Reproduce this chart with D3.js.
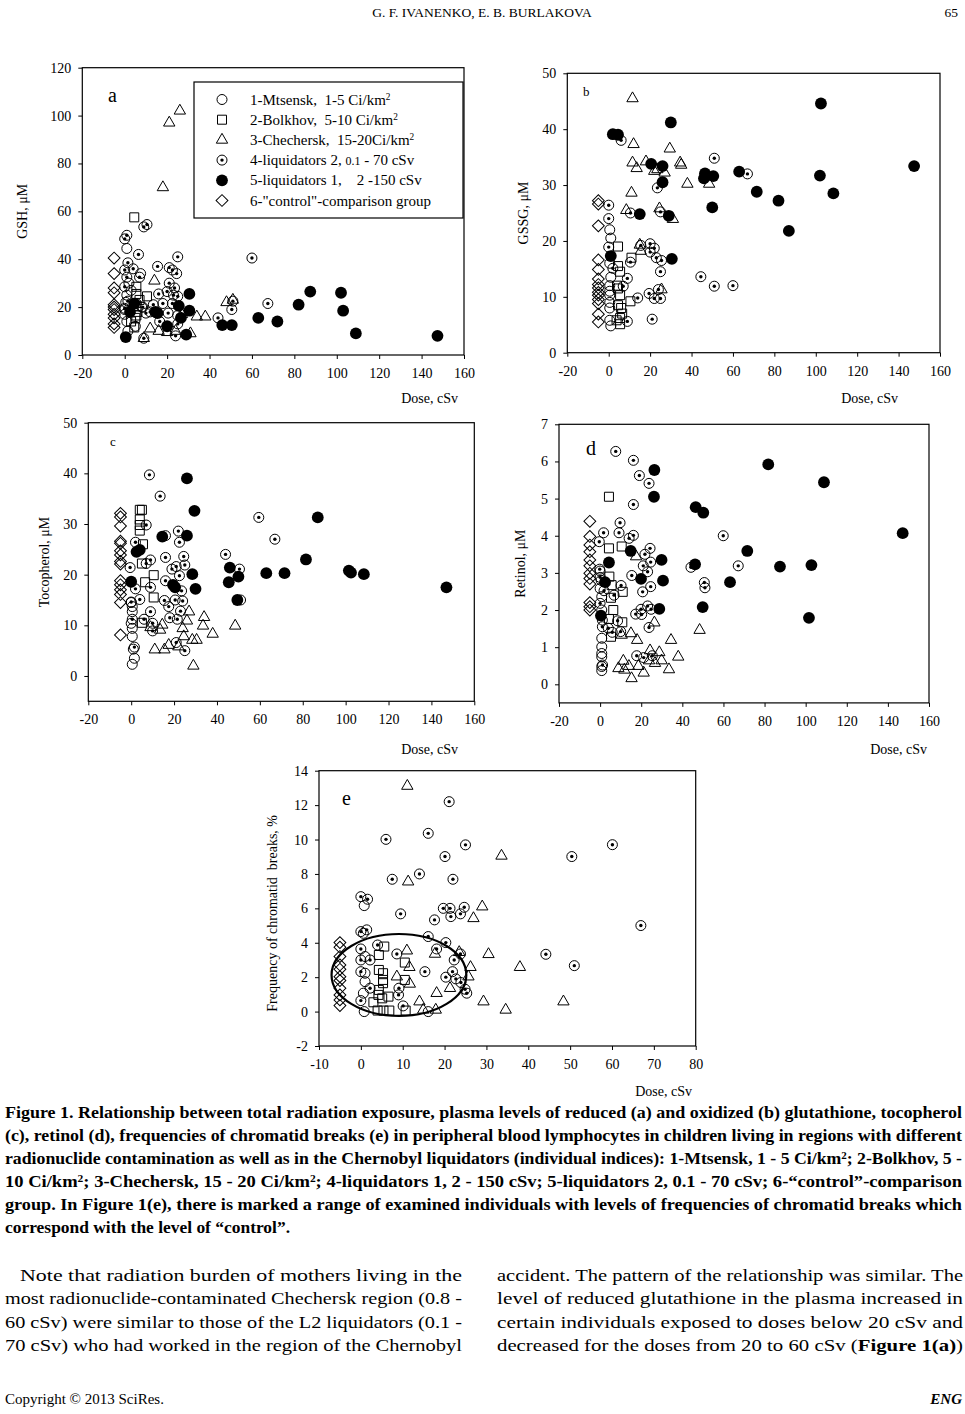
<!DOCTYPE html>
<html>
<head>
<meta charset="utf-8">
<script src="https://cdn.jsdelivr.net/npm/d3@7"></script>
<style>
  body { margin: 0; background: #fff; }
  svg { display: block; }
  text { font-family: "Liberation Serif", "Times New Roman", serif; fill: #000; }
</style>
</head>
<body>
<svg id="page" width="965" height="1414"></svg>
<script>
// ---------- data ----------
var doseTicks = [-20, 0, 20, 40, 60, 80, 100, 120, 140, 160];
var doseTicksE = [-10, 0, 10, 20, 30, 40, 50, 60, 70, 80];

var seriesKinds = ["circle", "square", "triangle", "dot", "filled", "diamond"];
var legendLabels = [
  [["1-Mtsensk,  1-5 Ci/km"], ["2", "sup"]],
  [["2-Bolkhov,  5-10 Ci/km"], ["2", "sup"]],
  [["3-Chechersk,  15-20Ci/km"], ["2", "sup"]],
  [["4-liquidators 2, "], ["0.1", "small"], [" - 70 cSv"]],
  [["5-liquidators 1,    2 -150 cSv"]],
  [["6-\"control\"-comparison group"]]
];

// (a) GSH
var aMtsensk = [[1,44.5],[7.5,34],[2,30],[1,25],[0.5,22],[0,19],[8,20],[0,17],[1,14],[5,12],[1.5,10],[3,27]];
var aBolkhov = [[4.5,57.5],[5.5,28.5],[5.5,25.5],[7,23],[10.5,24.5],[5.5,20.5],[6,18],[5,15.5],[3,14],[4.5,11.5],[5.5,16.5]];
var aChechersk = [[26,102],[21,97],[18,70],[14,31],[48,22],[51,23],[34,16],[38,16],[27,17],[12,11],[16,10],[9,7],[31,9],[20,9.5],[24,10]];
var aLiq2 = [[1,50],[0,48.5],[9,53.5],[10.5,54.5],[6.5,42],[25,41],[60,40.5],[15.5,37],[21,36.5],[22.5,35.5],[24.5,34],[1.5,38.5],[0,35.5],[1,32.5],[4,36],[7,32.5],[21,30],[23.5,28],[0,28.5],[20,26.5],[16,25.5],[23,25],[22.5,21.5],[25,24.5],[51,22.5],[50.5,19],[67.5,21.5],[13.5,21],[10,17.5],[16.5,14],[25,13],[24,8],[9,7],[20.5,17.5],[5.5,21.5],[1.5,22.5],[44,15.5],[18,21.5],[12,18],[25,16.5],[0,19.5],[8.5,20]];
var aLiq1 = [[4.5,21.5],[2.5,18],[0.5,7.5],[14.5,18],[15.5,17.5],[20,12],[25.5,20.5],[26.5,15.5],[30.5,25.5],[30.5,18.5],[29,8.5],[46,12.5],[50.5,12.5],[63,15.5],[72,14],[82,21],[87.5,26.5],[102,26],[103,18.5],[109,9],[147.5,8]];
var aControl = [[-5,40.5],[-5,34],[-5,28],[-5,26],[-5,21],[-5,20],[-5,19],[-5,17],[-5,15.5],[-5,13],[-5,11.5]];

// (b) GSSG
var bMtsensk = [[0.5,22],[1,20.5],[0.5,16],[1,13.5],[0.5,12],[0.5,11],[0.5,10.3],[0.5,9],[0.5,8],[0.5,5.8],[1,4.8]];
var bBolkhov = [[4.5,19],[11,17],[4.5,15.5],[5.5,14.5],[4,12],[4.5,11.5],[5.5,10.3],[4.5,8.5],[10.5,9.2],[6,8],[6.5,7],[5.5,6.2],[5.5,5.1],[3.8,5.8]];
var bChechersk = [[11.5,45.5],[12,37.3],[29.5,36.5],[11.5,34],[13.5,33],[18,34.2],[22,32.5],[23.5,32.8],[27,32.2],[34.5,34],[35,33.6],[38,30.2],[48.5,30.2],[11,28.6],[8.5,25.5],[24.5,25.8],[31,23.9],[15,19.3],[15.5,18.2],[25.5,11.3]];
var bLiq2 = [[6,38],[51,34.8],[67,32],[23.5,29.5],[0,26.4],[0,24],[10.5,25],[25,25.2],[0,18.9],[15.5,19.2],[20,19.5],[20,18],[22,18.7],[23,17],[25.5,16.5],[10.5,16.2],[2,15.1],[25,14.5],[9,13.3],[7,11.9],[44.5,13.6],[51,11.9],[60,12],[14,9.8],[19.5,10.6],[24,11.3],[22,9.7],[25,9.7],[21,6],[9,5.6]];
var bLiq1 = [[2,39.1],[4.5,39],[30,41.2],[102.5,44.6],[147.5,33.4],[20.5,33.8],[26,33.4],[26,30.5],[46.5,32.1],[46,31.2],[50.5,31.6],[63,32.4],[71.5,28.8],[82,27.2],[87,21.8],[102,31.7],[108.5,28.5],[50,26],[15,24.8],[29,24.5],[30.5,16.8],[1,17.3]];
var bControl = [[-5,27.2],[-5,26.6],[-5,22.7],[-5,16.6],[-5,14.9],[-5,13.2],[-5,12.2],[-5,11.6],[-5,10.8],[-5,10.3],[-5,9.5],[-5,8.8],[-5,6.9],[-5,5.5]];

// (c) Tocopherol
var cMtsensk = [[0.5,13.7],[0.5,12.7],[0,10.4],[0.5,9.4],[0.5,7.8],[1,5.3],[1.5,3.5],[0.5,2.3],[0,14.5]];
var cBolkhov = [[4,32.8],[5,32.8],[4,30.9],[4,29.8],[4,28.7],[5.5,26],[5,22.2],[10.5,19.9],[6.5,18.5],[10.5,15.5],[5,10.5]];
var cChechersk = [[27,12.7],[34,11.6],[33.5,9.9],[38,8.3],[48.5,9.9],[26,10.9],[24,9.4],[24.5,7.8],[28.5,7.1],[30.5,7.1],[13.5,9.1],[11,5.2],[15.5,5.2],[17.5,6.1],[29,2],[14.5,10.1],[22,5.8],[9,9.6]];
var cLiq2 = [[8.5,39.7],[13.5,35.5],[59.5,31.3],[67,27],[7,29.8],[22,28.6],[22.5,26.4],[2,26.4],[16,27.7],[44,24],[16,23.4],[24.5,23.6],[9,22.9],[7,22.2],[-0.5,21.4],[25,21.9],[19,21.1],[21,21.6],[22.5,19.8],[50.5,21.1],[16,18.8],[2,17.2],[9,17.5],[23.5,16.8],[4,15.1],[15.5,14.9],[20.5,15],[24,14.8],[0,14.6],[17.5,13.7],[23,12.8],[9,12.7],[18,11.5],[21.5,11.2],[6,11.2],[0.5,11.2],[10,10.4],[10,8.9],[21,6.6],[1.5,5.7],[25,5],[51,15]];
var cLiq1 = [[26,39],[29.5,32.6],[87,31.3],[14.5,27.5],[26,27.7],[2.5,24.5],[4,24.9],[0,18.6],[19.5,18],[20.5,17.5],[28.5,20.1],[30,17.2],[46,21.4],[45.5,18.5],[50,19.6],[49.5,15],[63,20.3],[71.5,20.3],[81.5,23],[101.5,20.8],[102.5,20.4],[108.5,20.1],[147,17.5]];
var cControl = [[-5,32.1],[-5,31.4],[-5,29.6],[-5,26.6],[-5,26.2],[-5,24.7],[-5,23.9],[-5,22.6],[-5,22.1],[-5,18.8],[-5,18],[-5,17],[-5,16.1],[-5,14.5],[-5,8.1]];

// (d) Retinol
var dMtsensk = [[0,2.58],[0.8,2.36],[0.8,2],[1.1,1.73],[0.8,1.24],[0.8,1.01],[0.8,0.83],[0.8,0.74],[0.8,0.48],[0.8,0.37],[0,3.05],[0.5,2.8]];
var dBolkhov = [[4.3,5.05],[4.3,3.66],[10.5,3.71],[4.5,2.9],[5.6,2.67],[11,2.49],[5.3,2.33],[6.4,2],[4.3,1.76],[10.8,1.67],[5.3,1.28]];
var dChechersk = [[17.5,3.44],[26.4,1.66],[48.4,1.46],[15,1.37],[10.5,1.33],[18,1.19],[34.5,1.19],[38,0.74],[24.3,0.91],[28.8,0.86],[11.3,0.63],[8.9,0.43],[14,0.49],[18.6,0.49],[23.8,0.64],[26.7,0.57],[29.9,0.64],[11.8,0.39],[15.3,0.16],[21.2,0.31],[33.5,0.4]];
var dLiq2 = [[7.6,6.27],[16.2,6.03],[19.1,5.62],[23.8,5.41],[16.2,4.84],[9.7,4.35],[1.7,4.08],[9.2,4.08],[16.2,4.01],[14.1,3.93],[-0.4,3.84],[59.9,4],[24.3,3.66],[21.8,3.5],[24.6,3.29],[21,3.19],[23.1,3.03],[44.2,3.15],[67.2,3.19],[15.4,2.93],[-0.2,3.1],[0,2.88],[10.2,2.66],[24.6,2.63],[50.7,2.74],[51,2.6],[1.9,2.52],[6.8,2.4],[20.7,2.49],[0,2.18],[23.1,2.11],[19.9,2.02],[20.2,1.88],[24.8,2.02],[17.3,1.89],[8.5,1.71],[1.1,1.55],[4,1.51],[5.9,1.4],[10,1.42],[23.8,1.53],[17.8,0.77],[21.2,0.72],[25.4,0.77],[1.2,0.52]];
var dLiq1 = [[26.4,5.77],[26.2,5.05],[81.8,5.92],[108.9,5.44],[46.5,4.77],[50.2,4.62],[147.2,4.07],[71.6,3.59],[14.9,3.59],[4.3,3.28],[29.9,3.35],[46.2,3.23],[87.5,3.17],[102.8,3.21],[2.4,2.75],[19.9,2.84],[30.6,2.79],[63.2,2.75],[0.4,1.85],[28.8,2.03],[49.9,2.08],[101.6,1.79]];
var dControl = [[-5,4.39],[-5,3.98],[-5,3.75],[-5,3.57],[-5,3.35],[-5,3.19],[-5,2.99],[-5,2.85],[-5,2.7],[-5,2.2],[-5,2.09],[-5,2]];

// (e) Frequency of chromatid breaks
var eMtsensk = [[0.8,6.16],[0.6,4.55],[1,3.2],[1,2.23],[1,1.74],[0.6,1.07],[0.8,0],[16.1,0]];
var eBolkhov = [[5.6,3.78],[4.3,3.29],[4.3,2.42],[5.3,2.23],[5.3,1.84],[5.3,1.65],[4.3,1.26],[4.2,0.97],[5.1,0.77],[6.6,0.87],[3,0.54],[4,0.06],[5.4,0.06],[6.8,0.06],[10.5,2.85],[10.5,1.84],[10.7,0.06]];
var eChechersk = [[11.1,13.11],[11.3,7.55],[33.6,9.05],[29,6.1],[26.9,5.42],[30.5,3.33],[11,3.54],[17.7,3.35],[23.5,3.45],[11.6,2.58],[26.2,2.58],[8.6,2.03],[25.7,2.03],[11.7,1.61],[21.3,1.36],[18.1,1.07],[38,2.58],[14,0.58],[29.3,0.58],[48.4,0.58],[34.6,0.1],[14.9,0.1],[17.9,0.1]];
var eLiq2 = [[21.1,12.2],[16.1,10.36],[6,10.01],[25,9.69],[20.1,9.01],[50.4,9.01],[60.1,9.7],[14,8],[7.5,7.69],[22,7.69],[0,6.68],[1.6,6.53],[9.5,5.68],[19.7,6],[21.3,6],[24.7,6.06],[21.5,5.52],[23.8,5.68],[17.6,5.33],[66.9,5],[0,4.65],[1.4,4.75],[16.1,4.36],[20.3,4.01],[4,3.87],[0,3.64],[8.6,3.35],[18.1,3.64],[23.8,3.35],[44.2,3.33],[0,3],[2.2,3],[22.3,3],[51,2.67],[0,2.32],[15.3,2.32],[21.9,2.32],[20.3,2],[22.7,1.9],[23.9,1.69],[2.2,1.36],[9.1,1.36],[9,0.97],[24.9,1.3],[25.3,1.07],[0,0.64],[10.1,0.33]];
var eLiq1 = [];
var eControl = [[-5,4.01],[-5,3.74],[-5,3.2],[-5,2.71],[-5,2.46],[-5,2.03],[-5,1.8],[-5,1.36],[-5,0.97],[-5,0.68],[-5,0.35]];
var eEllipse = [9.1, 2.13, 16.1, 2.38]; // centre x, centre y, half-width, half-height (data units)

// ---------- layout ----------
var panels = [
  { letter: "a", letterSize: 20, letterPos: [108, 102], yLabel: "GSH, \u03bcM", yLabelX: 27, yLabelShift: 0,
    left: 82.3, right: 464, top: 67.7, bottom: 355, xDomain: [-20, 160], yDomain: [0, 120],
    xTicks: doseTicks, yTicks: d3.range(0, 121, 20), doseEnd: [458, 403],
    series: [aMtsensk, aBolkhov, aChechersk, aLiq2, aLiq1, aControl], legend: true },
  { letter: "b", letterSize: 13, letterPos: [583, 96], yLabel: "GSSG, \u03bcM", yLabelX: 528, yLabelShift: 0,
    left: 567.3, right: 940, top: 73.3, bottom: 352.7, xDomain: [-20, 160], yDomain: [0, 50],
    xTicks: doseTicks, yTicks: d3.range(0, 51, 10), doseEnd: [898, 403],
    series: [bMtsensk, bBolkhov, bChechersk, bLiq2, bLiq1, bControl] },
  { letter: "c", letterSize: 13, letterPos: [110, 446], yLabel: "Tocopherol, \u03bcM", yLabelX: 49, yLabelShift: 0,
    left: 88.3, right: 474.3, top: 422.7, bottom: 701.3, xDomain: [-20, 160], yDomain: [-5, 50],
    xTicks: doseTicks, yTicks: d3.range(0, 51, 10), doseEnd: [458, 754],
    series: [cMtsensk, cBolkhov, cChechersk, cLiq2, cLiq1, cControl] },
  { letter: "d", letterSize: 20, letterPos: [586, 455], yLabel: "Retinol, \u03bcM", yLabelX: 525, yLabelShift: 0,
    left: 559, right: 929, top: 424.3, bottom: 702.9, xDomain: [-20, 160], yDomain: [-0.5, 7],
    xTicks: doseTicks, yTicks: d3.range(0, 8, 1), doseEnd: [927, 754],
    series: [dMtsensk, dBolkhov, dChechersk, dLiq2, dLiq1, dControl] },
  { letter: "e", letterSize: 20, letterPos: [342, 805], yLabel: "Frequency of chromatid  breaks, %", yLabelX: 277, yLabelShift: 5,
    left: 319, right: 695.7, top: 770.7, bottom: 1046, xDomain: [-10, 80], yDomain: [-2, 14],
    xTicks: doseTicksE, yTicks: d3.range(-2, 15, 2), doseEnd: [692, 1096],
    series: [eMtsensk, eBolkhov, eChechersk, eLiq2, eLiq1, eControl], ellipse: eEllipse }
];

var svg = d3.select("#page");

// marker drawing
function drawMarker(m, kind) {
  if (kind === "circle") {
    m.append("circle").attr("r", 5).attr("fill", "none").attr("stroke", "#000").attr("stroke-width", 1);
  } else if (kind === "dot") {
    m.append("circle").attr("r", 5).attr("fill", "none").attr("stroke", "#000").attr("stroke-width", 1);
    m.append("circle").attr("r", 1.7).attr("fill", "#000");
  } else if (kind === "filled") {
    m.append("circle").attr("r", 5.9).attr("fill", "#000");
  } else if (kind === "square") {
    m.append("path").attr("d", d3.symbol(d3.symbolSquare, 81)())
      .attr("fill", "none").attr("stroke", "#000");
  } else if (kind === "triangle") {
    m.append("path").attr("d", d3.symbol(d3.symbolTriangle, 56)())
      .attr("fill", "none").attr("stroke", "#000");
  } else if (kind === "diamond") {
    m.append("path").attr("d", d3.symbol(d3.symbolSquare, 70)())
      .attr("transform", "rotate(45)")
      .attr("fill", "none").attr("stroke", "#000");
  }
}

function addRich(textSel, parts, baseSize) {
  parts.forEach(function(p) {
    var t = textSel.append("tspan").text(p[0]);
    if (p[1] === "sup") t.attr("font-size", baseSize * 0.62).attr("baseline-shift", "super");
    if (p[1] === "small") t.attr("font-size", baseSize * 0.8);
    if (p[1] === "bold") t.attr("font-weight", "bold");
  });
}

// draw order: open marks first, filled last
var drawOrder = [5, 0, 1, 2, 3, 4];

panels.forEach(function(p) {
  var x = d3.scaleLinear().domain(p.xDomain).range([p.left, p.right]);
  var y = d3.scaleLinear().domain(p.yDomain).range([p.bottom, p.top]);
  var g = svg.append("g");

  // axes
  var xAxis = g.append("g").attr("transform", `translate(0,${p.bottom})`)
    .call(d3.axisBottom(x).tickValues(p.xTicks).tickSize(4).tickPadding(9).tickFormat(function(d) { return String(d); }));
  var yAxis = g.append("g").attr("transform", `translate(${p.left},0)`)
    .call(d3.axisLeft(y).tickValues(p.yTicks).tickSize(4).tickPadding(7).tickFormat(function(d) { return String(d); }));
  [xAxis, yAxis].forEach(function(ax) {
    ax.attr("font-family", null).attr("font-size", null);
    ax.select(".domain").remove();
    ax.selectAll("line").attr("stroke", "#000");
    ax.selectAll("text").style("font-size", "14px");
  });

  // frame
  g.append("rect")
    .attr("x", p.left).attr("y", p.top)
    .attr("width", p.right - p.left).attr("height", p.bottom - p.top)
    .attr("fill", "none").attr("stroke", "#000").attr("stroke-width", 1.2);

  // ellipse (panel e)
  if (p.ellipse) {
    var el = p.ellipse;
    g.append("ellipse")
      .attr("cx", x(el[0])).attr("cy", y(el[1]))
      .attr("rx", x(el[0] + el[2]) - x(el[0])).attr("ry", y(el[1]) - y(el[1] + el[3]))
      .attr("fill", "none").attr("stroke", "#000").attr("stroke-width", 2.2);
  }

  // marks
  drawOrder.forEach(function(si) {
    var kind = seriesKinds[si];
    g.append("g").selectAll("g")
      .data(p.series[si])
      .join("g")
      .attr("transform", function(d) { return `translate(${x(d[0])},${y(d[1])})`; })
      .each(function() { drawMarker(d3.select(this), kind); });
  });

  // panel letter
  g.append("text").attr("x", p.letterPos[0]).attr("y", p.letterPos[1])
    .style("font-size", p.letterSize + "px").text(p.letter);

  // axis titles
  g.append("text")
    .attr("transform", `translate(${p.yLabelX},${(p.top + p.bottom) / 2 + p.yLabelShift}) rotate(-90)`)
    .attr("text-anchor", "middle").style("font-size", "14px").style("white-space", "pre")
    .text(p.yLabel);
  g.append("text").attr("x", p.doseEnd[0]).attr("y", p.doseEnd[1])
    .attr("text-anchor", "end").style("font-size", "14px").text("Dose, cSv");

  // legend (panel a)
  if (p.legend) {
    var lg = g.append("g");
    lg.append("rect").attr("x", 194).attr("y", 82).attr("width", 269).attr("height", 136)
      .attr("fill", "#fff").attr("stroke", "#000").attr("stroke-width", 1.2);
    var rowY = d3.scaleLinear().domain([0, 5]).range([99.5, 200.5]);
    seriesKinds.forEach(function(kind, i) {
      drawMarker(lg.append("g").attr("transform", `translate(222,${rowY(i)})`), kind);
      var t = lg.append("text").attr("x", 250).attr("y", rowY(i) + 5)
        .style("font-size", "15px").style("white-space", "pre");
      addRich(t, legendLabels[i], 15);
    });
  }
});

// ---------- page text ----------
svg.append("text").attr("x", 482).attr("y", 17).attr("text-anchor", "middle")
  .style("font-size", "13.5px").text("G. F. IVANENKO, E. B. BURLAKOVA");
svg.append("text").attr("x", 958).attr("y", 17).attr("text-anchor", "end")
  .style("font-size", "13.5px").text("65");

var captionLines = [
  [["Figure 1. Relationship between total radiation exposure, plasma levels of reduced (a) and oxidized (b) glutathione, tocopherol"]],
  [["(c), retinol (d), frequencies of chromatid breaks (e) in peripheral blood lymphocytes in children living in regions with different"]],
  [["radionuclide contamination as well as in the Chernobyl liquidators (individual indices): 1-Mtsensk, 1 - 5 Ci/km"], ["2", "sup"], ["; 2-Bolkhov, 5 -"]],
  [["10 Ci/km"], ["2", "sup"], ["; 3-Chechersk, 15 - 20 Ci/km"], ["2", "sup"], ["; 4-liquidators 1, 2 - 150 cSv; 5-liquidators 2, 0.1 - 70 cSv; 6-\u201ccontrol\u201d-comparison"]],
  [["group. In Figure 1(e), there is marked a range of examined individuals with levels of frequencies of chromatid breaks which"]],
  [["correspond with the level of \u201ccontrol\u201d."]]
];
captionLines.forEach(function(line, i) {
  var t = svg.append("text").attr("x", 5).attr("y", 1118 + i * 23)
    .style("font-size", "16px").style("font-weight", "bold")
    .attr("textLength", i === captionLines.length - 1 ? 285 : 957)
    .attr("lengthAdjust", "spacingAndGlyphs");
  addRich(t, line, 16);
});

var bodyLeft = [
  [["Note that radiation burden of mothers living in the"]],
  [["most radionuclide-contaminated Chechersk region (0.8 -"]],
  [["60 cSv) were similar to those of the L2 liquidators (0.1 -"]],
  [["70 cSv) who had worked in the region of the Chernobyl"]]
];
var bodyRight = [
  [["accident. The pattern of the relationship was similar. The"]],
  [["level of reduced glutathione in the plasma increased in"]],
  [["certain individuals exposed to doses below 20 cSv and"]],
  [["decreased for the doses from 20 to 60 cSv ("], ["Figure 1(a)", "bold"], [")"]]
];
function bodyColumn(lines, x0, x1, indent) {
  lines.forEach(function(line, i) {
    var xs = x0 + (i === 0 ? indent : 0);
    var t = svg.append("text").attr("x", xs).attr("y", 1281 + i * 23.3)
      .style("font-size", "17px")
      .attr("textLength", x1 - xs).attr("lengthAdjust", "spacingAndGlyphs");
    addRich(t, line, 17);
  });
}
bodyColumn(bodyLeft, 5, 462, 15);
bodyColumn(bodyRight, 497, 963, 0);

svg.append("text").attr("x", 5).attr("y", 1404).style("font-size", "15px")
  .text("Copyright \u00a9 2013 SciRes.");
svg.append("text").attr("x", 962).attr("y", 1404).attr("text-anchor", "end")
  .style("font-size", "15px").style("font-weight", "bold").style("font-style", "italic")
  .text("ENG");
</script>
</body>
</html>
